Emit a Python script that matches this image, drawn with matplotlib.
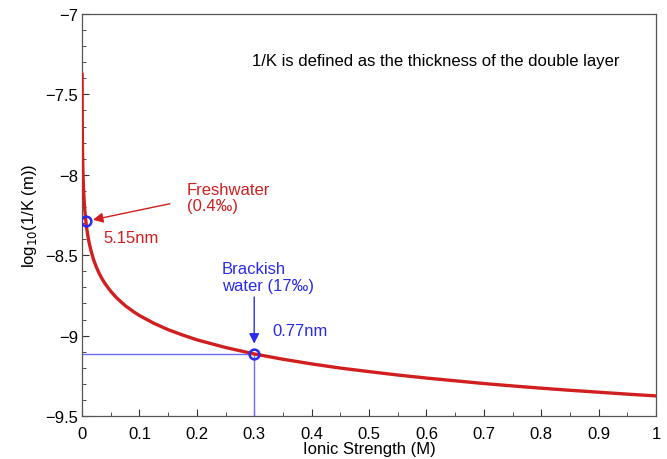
import matplotlib
matplotlib.use('Agg')
import matplotlib.pyplot as plt
from matplotlib.ticker import MultipleLocator

plt.rcParams['font.family'] = ['Liberation Sans', 'DejaVu Sans']
plt.rcParams['axes.unicode_minus'] = True

# Debye length curve (ionic strength M, log10 of 1/K in m)
ionic_strength = [0.0001, 0.0002, 0.0003, 0.0005, 0.001, 0.0015, 0.002, 0.003,
                  0.004, 0.005, 0.0067, 0.008, 0.01, 0.012, 0.015, 0.02, 0.025,
                  0.03, 0.035, 0.04, 0.05, 0.06, 0.075, 0.09, 0.1, 0.125, 0.15,
                  0.175, 0.2, 0.25, 0.3, 0.35, 0.4, 0.45, 0.5, 0.55, 0.6, 0.65,
                  0.7, 0.75, 0.8, 0.85, 0.9, 0.95, 1.0]
log_thickness = [-7.375, -7.526, -7.614, -7.724, -7.875, -7.963, -8.026, -8.114,
                 -8.176, -8.224, -8.288, -8.327, -8.375, -8.415, -8.463, -8.526,
                 -8.574, -8.614, -8.647, -8.676, -8.724, -8.764, -8.813, -8.852,
                 -8.875, -8.923, -8.963, -8.996, -9.026, -9.074, -9.114, -9.147,
                 -9.176, -9.202, -9.224, -9.245, -9.264, -9.281, -9.298, -9.313,
                 -9.327, -9.340, -9.352, -9.364, -9.375]

fresh_point = (0.007, -8.29)
brackish_point = (0.3, -9.114)

x_ticks = [0, 0.1, 0.2, 0.3, 0.4, 0.5, 0.6, 0.7, 0.8, 0.9, 1]
x_tick_labels = ['0', '0.1', '0.2', '0.3', '0.4', '0.5', '0.6', '0.7', '0.8', '0.9', '1']
y_ticks = [-9.5, -9, -8.5, -8, -7.5, -7]
y_tick_labels = ['\u22129.5', '\u22129', '\u22128.5', '\u22128', '\u22127.5', '\u22127']

red = '#d11f1f'
blue = '#2a2af0'
light_blue = '#6b6bff'

fig = plt.figure(figsize=(6.67, 4.6), dpi=100)
ax = fig.add_axes([82 / 667, 1 - 417 / 460, 574 / 667, 402 / 460])

# guide lines for brackish water
ax.plot([0, brackish_point[0]], [brackish_point[1], brackish_point[1]],
        color=light_blue, linewidth=1, zorder=2)
ax.plot([brackish_point[0], brackish_point[0]], [-9.5, brackish_point[1]],
        color=light_blue, linewidth=1, zorder=2)

ax.plot(ionic_strength, log_thickness, color=red, linewidth=2.4, zorder=3,
        solid_joinstyle='round')

ax.plot(*fresh_point, 'o', markersize=7, markerfacecolor='none',
        markeredgecolor=blue, markeredgewidth=1.8, zorder=4)
ax.plot(*brackish_point, 'o', markersize=7, markerfacecolor='none',
        markeredgecolor=blue, markeredgewidth=1.8, zorder=4)

ax.annotate('', xy=(0.019, -8.28), xytext=(0.153, -8.18),
            arrowprops=dict(arrowstyle='-|>', color=red, lw=1.0,
                            mutation_scale=15, shrinkA=0, shrinkB=0))
ax.annotate('', xy=(0.3, -9.05), xytext=(0.3, -8.76),
            arrowprops=dict(arrowstyle='-|>', color=blue, lw=1.0,
                            mutation_scale=15, shrinkA=0, shrinkB=0))

ax.text(0.183, -8.141, 'Freshwater\n(0.4\u2030)', color=red, fontsize=12,
        ha='left', va='center', linespacing=1.15)
ax.text(0.038, -8.39, '5.15nm', color=red, fontsize=12, ha='left', va='center')
ax.text(0.244, -8.635, 'Brackish\nwater (17\u2030)', color=blue, fontsize=12,
        ha='left', va='center', linespacing=1.15)
ax.text(0.331, -8.97, '0.77nm', color=blue, fontsize=12, ha='left', va='center')
ax.text(0.296, -7.29, '1/K is defined as the thickness of the double layer',
        color='black', fontsize=12, ha='left', va='center')

ax.set_xlim(0, 1)
ax.set_ylim(-9.5, -7)
ax.set_xticks(x_ticks)
ax.set_xticklabels(x_tick_labels)
ax.set_yticks(y_ticks)
ax.set_yticklabels(y_tick_labels)
ax.xaxis.set_minor_locator(MultipleLocator(0.05))
ax.yaxis.set_minor_locator(MultipleLocator(0.1))
ax.tick_params(which='both', direction='in', top=False, right=False,
               labelsize=12, colors='#333333', labelcolor='black')
ax.tick_params(which='major', length=5)
ax.tick_params(which='minor', length=3)
ax.tick_params(axis='x', which='major', pad=7)
ax.tick_params(axis='y', which='major', pad=3)
for s in ax.spines.values():
    s.set_color('#555555')
    s.set_linewidth(0.9)

ax.set_xlabel('Ionic Strength (M)', fontsize=12, labelpad=0)
ax.set_ylabel('log$_{10}$(1/K (m))', fontsize=12, labelpad=4)

fig.savefig('out.png', dpi=100)
